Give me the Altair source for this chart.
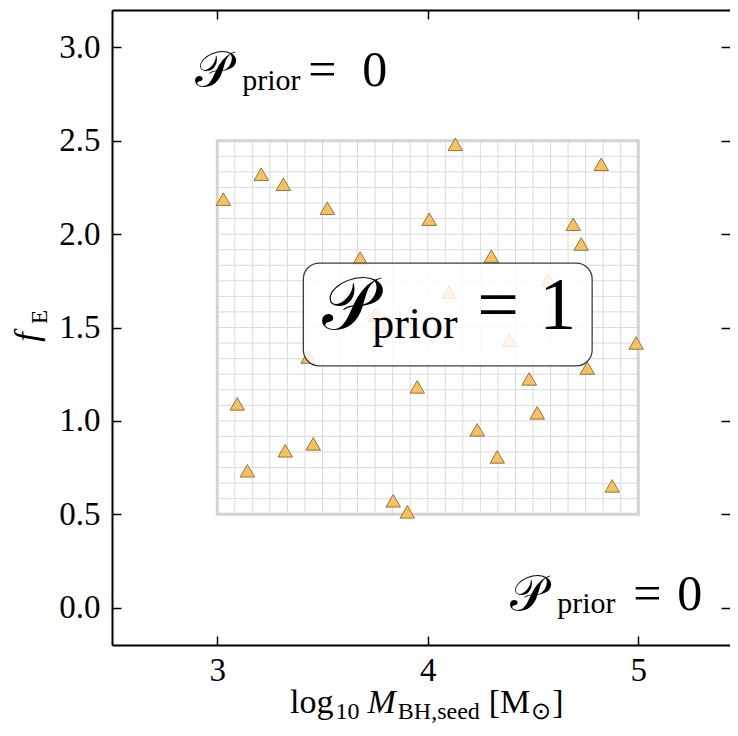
import altair as alt
import pandas as pd
import numpy as np

# ---------------- data ----------------
seed_mass = [3.029, 3.209, 3.314, 3.523, 4.131, 4.007, 3.679, 4.302, 4.824, 4.691,
             4.729, 3.950, 3.095, 3.323, 3.456, 3.143, 3.836, 3.903, 4.758, 4.990,
             4.482, 4.520, 4.235, 4.330, 4.876, 3.627, 4.102, 4.572, 3.751, 3.774,
             4.387, 3.432]
f_edd = [2.187, 2.321, 2.267, 2.139, 2.481, 2.080, 1.872, 1.882, 2.374, 2.053,
         1.947, 1.182, 1.091, 0.840, 0.877, 0.733, 0.572, 0.513, 1.283, 1.417,
         1.225, 1.043, 0.952, 0.807, 0.652, 1.663, 1.690, 1.754, 1.567, 1.508,
         1.433, 1.342]
x_ticks = [3, 4, 5]
y_ticks = [0.0, 0.5, 1.0, 1.5, 2.0, 2.5, 3.0]
prior_x = [3.0, 5.0]
prior_y = [0.5, 2.5]
n_cells = 24
label_box_x = [3.409, 4.781]
label_box_y = [1.294, 1.845]

FONT = "Liberation Serif"
W, H = 618, 635
PX_PER_UNIT = 210.5
xs = alt.Scale(domain=[2.5, 2.5 + W / PX_PER_UNIT], nice=False, zero=False)
ys = alt.Scale(domain=[-0.2, 3.2], nice=False, zero=False)

grid_x = np.linspace(prior_x[0], prior_x[1], n_cells + 1)
grid_y = np.linspace(prior_y[0], prior_y[1], n_cells + 1)
grid_v = pd.DataFrame({"gx": grid_x, "ylo": prior_y[0], "yhi": prior_y[1]})
grid_h = pd.DataFrame({"gy": grid_y, "xlo": prior_x[0], "xhi": prior_x[1]})
border = pd.DataFrame({"xlo": [prior_x[0]], "xhi": [prior_x[1]],
                       "ylo": [prior_y[0]], "yhi": [prior_y[1]]})
pts = pd.DataFrame({"m": seed_mass, "f": f_edd})
lbox = pd.DataFrame({"xlo": [label_box_x[0]], "xhi": [label_box_x[1]],
                     "ylo": [label_box_y[0]], "yhi": [label_box_y[1]]})
one = pd.DataFrame({"a": [0]})

# ---------------- axes ----------------
TK = 9
main_x = alt.Axis(orient="bottom", values=x_ticks, format="d", labelFont=FONT,
                  labelFontSize=33, labelColor="black", labelPadding=9, ticks=False,
                  domain=True, domainColor="black", domainWidth=2, grid=False, title=None)
main_y = alt.Axis(orient="left", values=y_ticks, format=".1f", labelFont=FONT,
                  labelFontSize=33, labelColor="black", labelPadding=12, ticks=False,
                  domain=True, domainColor="black", domainWidth=2, grid=False, title=None)
top_dom = alt.Axis(orient="top", domain=True, domainColor="black", domainWidth=2,
                   ticks=False, labels=False, grid=False, title=None)


def tick_axis(orient, values):
    return alt.Axis(orient=orient, values=values, domain=False, labels=False, ticks=True,
                    tickSize=TK, tickWidth=1.5, tickColor="black", offset=-TK,
                    grid=False, title=None)


vrules = alt.Chart(grid_v).mark_rule(color="#dadada", strokeWidth=1).encode(
    x=alt.X("gx:Q", scale=xs, axis=main_x),
    y=alt.Y("ylo:Q", scale=ys, axis=main_y),
    y2="yhi:Q",
)
hrules = alt.Chart(grid_h).mark_rule(color="#dadada", strokeWidth=1).encode(
    y=alt.Y("gy:Q", scale=ys, axis=tick_axis("right", y_ticks)),
    x=alt.X("xlo:Q", scale=xs, axis=top_dom),
    x2="xhi:Q",
)
frame = alt.Chart(border).mark_rect(fillOpacity=0, stroke="#d3d3d3", strokeWidth=3).encode(
    x=alt.X("xlo:Q", scale=xs, axis=tick_axis("bottom", x_ticks)),
    x2="xhi:Q",
    y=alt.Y("ylo:Q", scale=ys, axis=tick_axis("left", y_ticks)),
    y2="yhi:Q",
)
points = alt.Chart(pts).mark_point(shape="triangle-up", filled=True, size=210,
                                   fill="#f5c25f", fillOpacity=1, stroke="#8a6a34",
                                   strokeWidth=0.9, opacity=1).encode(
    x=alt.X("m:Q", scale=xs, axis=tick_axis("top", x_ticks)),
    y=alt.Y("f:Q", scale=ys, axis=None),
)
box = alt.Chart(lbox).mark_rect(cornerRadius=16, fill="white", fillOpacity=0.83,
                                stroke="#3c3c3c", strokeWidth=1.3).encode(
    x=alt.X("xlo:Q", scale=xs, axis=None), x2="xhi:Q",
    y=alt.Y("ylo:Q", scale=ys, axis=None), y2="yhi:Q",
)


def seg(text, x, y, size, style="normal", align="left", angle=0):
    return alt.Chart(one).mark_text(text=text, font=FONT, fontSize=size, fontStyle=style,
                                    align=align, baseline="alphabetic", angle=angle,
                                    color="black").encode(x=x, y=y)


def dx(v):
    return alt.XDatum(v, axis=None)


def dy(v):
    return alt.YDatum(v, axis=None)


P = "\U0001D4AB"
texts = [
    # top-left P_prior = 0
    seg(P, dx(2.8955), dy(2.791), 50),
    seg("prior", dx(3.119), dy(2.772), 30),
    seg("=", dx(3.432), dy(2.791), 50),
    seg("0", dx(3.689), dy(2.791), 50),
    # bottom-right P_prior = 0
    seg(P, dx(4.392), dy(-0.011), 50),
    seg("prior", dx(4.615), dy(-0.030), 30),
    seg("=", dx(4.976), dy(-0.011), 50),
    seg("0", dx(5.185), dy(-0.011), 50),
    # box P_prior = 1
    seg(P, dx(3.499), dy(1.49), 74),
    seg("prior", dx(3.736), dy(1.444), 44),
    seg("=", dx(4.235), dy(1.49), 74),
    seg("1", dx(4.53), dy(1.49), 74),
    # x title
    seg("log", alt.value(178), alt.value(703), 34),
    seg("10", alt.value(223.5), alt.value(709), 24),
    seg("M", alt.value(255.5), alt.value(703), 34, "italic"),
    seg("BH,seed", alt.value(285.8), alt.value(709), 24),
    seg("[M", alt.value(376.8), alt.value(703), 34),
    seg("\u2299", alt.value(419.3), alt.value(709), 24),
    seg("]", alt.value(440.3), alt.value(703), 34),
    # y title
    seg("f", alt.value(-74), alt.value(327), 34, "italic", "center", 270),
    seg("E", alt.value(-65), alt.value(307), 23, "normal", "center", 270),
]

chart = alt.layer(vrules, hrules, frame, points, box, *texts).resolve_axis(
    x="independent", y="independent"
).properties(
    width=W, height=H,
    autosize=alt.AutoSizeParams(type="none"),
    padding={"left": 104, "top": 2, "right": 0, "bottom": 81},
    background="white",
).configure_view(stroke=None)

chart.save("out.html", embed_options={"renderer": "svg", "actions": False})
